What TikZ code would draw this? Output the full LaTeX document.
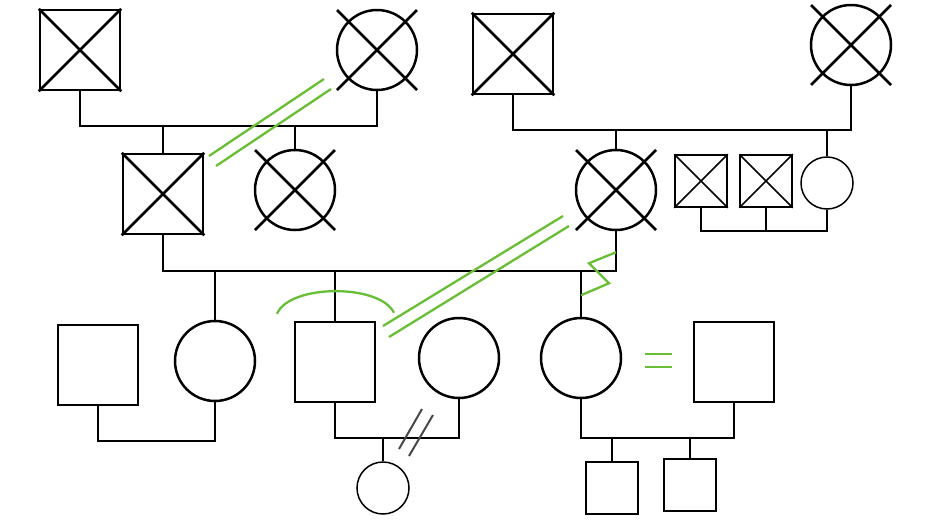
\documentclass[tikz,border=0pt]{standalone}
\usetikzlibrary{calc}
\definecolor{relgreen}{RGB}{104,190,52}
\definecolor{divgray}{RGB}{72,72,72}
\tikzset{
    male/.style={draw, rectangle, minimum size=80pt, inner sep=0pt, line width=2.5pt},
    female/.style={draw, circle, minimum size=80pt, inner sep=0pt, line width=2.5pt},
    smale/.style={male, minimum size=52pt, line width=1.5pt},
    sfemale/.style={female, minimum size=52pt, line width=1.5pt},
    tie/.style={line width=2.5pt},
    stie/.style={line width=1.5pt},
    rel/.style={relgreen, line width=2.3pt},
    cut/.style={divgray, line width=2pt}
}

\begin{document}
\begin{tikzpicture}[x=1pt, y=-1pt]
    \useasboundingbox (0,0) rectangle (930,523);
    % grandparents
    \node [male] (pgf) at (80,50) {};
    \node [female] (pgm) at (377,50) {};
    \node [male] (mgf) at (513,54) {};
    \node [female] (mgm) at (851,45) {};
    % parents and their siblings
    \node [male] (pf) at (163,194) {};
    \node [female] (pa) at (295,190) {};
    \node [female] (mm) at (616,190) {};
    \node [smale] (mu1) at (701,181) {};
    \node [smale] (mu2) at (766,181) {};
    \node [sfemale] (ma) at (827,183) {};
    % children and partners
    \node [male] (sp1) at (98,365) {};
    \node [female] (c1) at (215,361) {};
    \node [male] (c2) at (335,362) {};
    \node [female] (sp2) at (459,358) {};
    \node [female] (c3) at (581,358) {};
    \node [male] (sp3) at (734,362) {};
    % grandchildren
    \node [sfemale] (g1) at (383,488) {};
    \node [smale] (g2) at (612,488) {};
    \node [smale] (g3) at (690,485) {};

    % family lines
    \coordinate (m1) at (228,126);
    \coordinate (m2) at (682,130);
    \coordinate (m3) at (390,271);
    \coordinate (m4) at (766,231);
    \coordinate (m5) at (156,441);
    \coordinate (m6) at (416,438);
    \coordinate (m7) at (657,438);
    \draw [tie] (pgf.south) |- (m1) -| (pgm.south);
    \draw [tie] (pf.north) -- (pf.north |- m1);
    \draw [tie] (pa.north) -- (pa.north |- m1);
    \draw [tie] (mgf.south) |- (m2) -| (mgm.south);
    \draw [tie] (mm.north) -- (mm.north |- m2);
    \draw [stie] (ma.north) -- (ma.north |- m2);
    \draw [stie] (mu1.south) |- (m4) -| (ma.south);
    \draw [stie] (mu2.south) -- (m4);
    \draw [tie] (pf.south) |- (m3) -| (mm.south);
    \foreach \n in {c1,c2,c3}
        \draw [tie] (\n.north) -- (\n.north |- m3);
    \draw [tie] (sp1.south) |- (m5) -| (c1.south);
    \draw [tie] (c2.south) |- (m6) -| (sp2.south);
    \draw [stie] (g1.north) -- (g1.north |- m6);
    \draw [tie] (c3.south) |- (m7) -| (sp3.south);
    \foreach \n in {g2,g3}
        \draw [stie] (\n.north) -- (\n.north |- m7);

    % deceased
    \foreach \n in {pgf,mgf,pf}
        \draw [tie] (\n.north west) -- (\n.south east) (\n.north east) -- (\n.south west);
    \foreach \n in {mu1,mu2}
        \draw [stie] (\n.north west) -- (\n.south east) (\n.north east) -- (\n.south west);
    \foreach \n in {pgm,mgm,pa,mm}
        \draw [tie] (\n.center) ++(-40,-40) -- ++(80,80) (\n.center) ++(-40,40) -- ++(80,-80);

    % relationships
    \coordinate (r1a) at (209,156);
    \coordinate (r1b) at (324,79);
    \coordinate (r1c) at (216,166);
    \coordinate (r1d) at (331,89);
    \coordinate (r2a) at (383,326);
    \coordinate (r2b) at (563,216);
    \coordinate (r2c) at (389,337);
    \coordinate (r2d) at (569,226);
    \draw [rel] (r1a) -- (r1b) (r1c) -- (r1d);
    \draw [rel] (r2a) -- (r2b) (r2c) -- (r2d);
    \draw [rel] ($(mm.south)+(0,21)$) -- ++(-27,11) -- ++(20,20) -- ++(-28,12);
    \draw [rel] ($(c2.north)+(-58,-7)$) .. controls ($(c2.north)+(-45,-37)$) and ($(c2.north)+(45,-37)$) .. ($(c2.north)+(59,-8)$);
    \coordinate (eq) at ($(c3.east)!0.5!(sp3.west)$);
    \draw [rel] (eq) ++(-13,-6) -- ++(27,0) (eq) ++(-13,7) -- ++(27,0);
    \draw [cut] (m6) ++(-17,11) -- ++(23,-40) (m6) ++(-7,18) -- ++(24,-41);
\end{tikzpicture}
\end{document}
